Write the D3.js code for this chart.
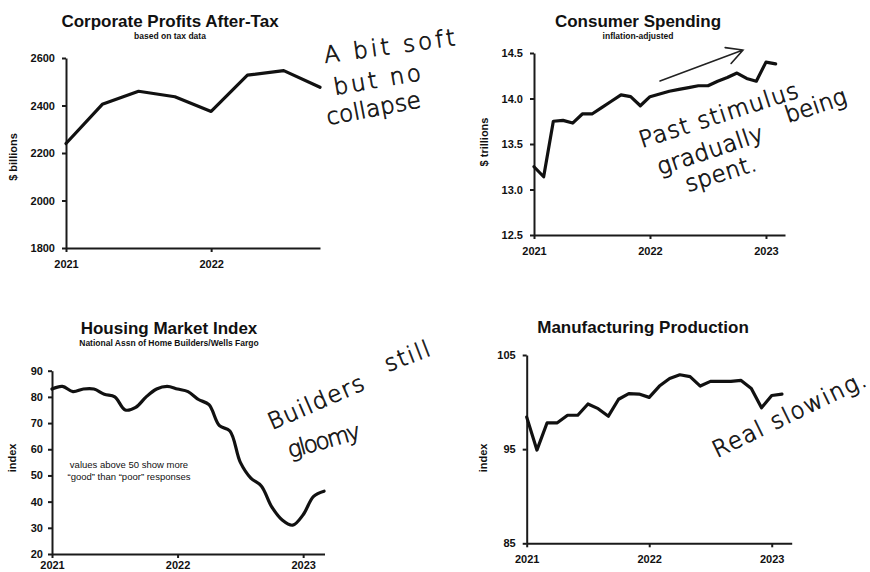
<!DOCTYPE html>
<meta charset="utf-8">
<style>
  body { margin: 0; background: #fff; }
  svg text { font-family: "Liberation Sans", Arial, sans-serif; fill: #111; }
  .axis path, .axis line { stroke: #1a1a1a; stroke-width: 2; fill: none; }
  .axis text { font-size: 11px; font-weight: bold; }
  .title { font-size: 17px; font-weight: bold; text-anchor: middle; }
  .sub { font-size: 8.5px; font-weight: bold; text-anchor: middle; }
  .ylab { font-size: 11px; font-weight: bold; text-anchor: middle; }
  .note { font-size: 9.5px; text-anchor: middle; }
  .series { fill: none; stroke: #111; stroke-width: 3.2; stroke-linejoin: round; stroke-linecap: round; }
  svg text.hand { font-family: "DejaVu Sans", sans-serif; font-weight: 200; font-size: 23px; stroke: #111; stroke-width: 0.7; }
  .pen { fill: none; stroke: #222; stroke-width: 1.6; stroke-linecap: round; }
</style>
<body>
<svg width="870" height="572"></svg>
<script src="https://d3js.org/d3.v7.min.js"></script>
<script>

// quarterly, from 2021 Q1
var profitsValues = [2240, 2405, 2460, 2437, 2375, 2528, 2547, 2477];
var profitsTicks = [1800, 2000, 2200, 2400, 2600];

// monthly, from Jan 2021
var spendingValues = [13.25, 13.14, 13.75, 13.76, 13.73, 13.83, 13.83, 13.90, 13.97, 14.04, 14.02, 13.92,
                      14.02, 14.05, 14.08, 14.10, 14.12, 14.14, 14.14, 14.19, 14.23, 14.28, 14.22, 14.19,
                      14.40, 14.38];
var spendingTicks = [12.5, 13.0, 13.5, 14.0, 14.5];

var housingValues = [83, 84, 82, 83, 83, 81, 80, 75, 76, 80, 83, 84,
                     83, 82, 79, 77, 69, 67, 55, 49, 46, 38, 33, 31,
                     35, 42, 44];
var housingTicks = [20, 30, 40, 50, 60, 70, 80, 90];

var manufacturingValues = [98.4, 94.9, 97.8, 97.8, 98.6, 98.6, 99.8, 99.3, 98.5, 100.3, 100.9, 100.85,
                           100.5, 101.7, 102.5, 102.9, 102.7, 101.7, 102.2, 102.2, 102.2, 102.3, 101.45, 99.4,
                           100.7, 100.85];
var manufacturingTicks = [85, 95, 105];

var yearTicks = [2021, 2022, 2023];

var svg = d3.select("svg");

// draws one small chart
function panel(o) {
  var x = d3.scaleLinear().domain(o.xDomain).range(o.xRange);
  var y = d3.scaleLinear().domain(o.yDomain).range(o.yRange);
  var g = svg.append("g");

  g.append("text").attr("class", "title").attr("x", o.titleX).attr("y", o.titleY).text(o.title);
  if (o.sub) g.append("text").attr("class", "sub").attr("x", o.titleX).attr("y", o.titleY + 12).text(o.sub);

  g.append("g").attr("class", "axis")
    .attr("transform", "translate(0," + o.yRange[0] + ")")
    .call(d3.axisBottom(x).tickValues(o.xTicks).tickFormat(d3.format("d")).tickSizeInner(4).tickSizeOuter(0).tickPadding(o.xPad || 8));

  g.append("g").attr("class", "axis")
    .attr("transform", "translate(" + o.xRange[0] + ",0)")
    .call(d3.axisLeft(y).tickValues(o.yTicks).tickFormat(o.yFormat).tickSizeInner(4).tickSizeOuter(0).tickPadding(o.yPad || 7));

  g.append("text").attr("class", "ylab")
    .attr("transform", "translate(" + o.ylabX + "," + o.ylabY + ") rotate(-90)")
    .text(o.ylab);

  var line = d3.line()
    .x(function(d, i) { return x(2021 + i * o.step); })
    .y(function(d) { return y(d); })
    .curve(o.curve || d3.curveLinear);

  g.append("path").attr("class", "series").attr("d", line(o.values));
  return g;
}

panel({
  title: "Corporate Profits After-Tax", sub: "based on tax data", titleX: 170, titleY: 27,
  xDomain: [2021, 2022.75], xRange: [66, 320], yDomain: [1800, 2600], yRange: [248, 58],
  xTicks: [2021, 2022], yTicks: profitsTicks, yFormat: d3.format("d"),
  ylab: "$ billions", ylabX: 17, ylabY: 157, values: profitsValues, step: 1 / 4
});

panel({
  title: "Consumer Spending", sub: "inflation-adjusted", titleX: 638, titleY: 27,
  xDomain: [2021, 2023.164], xRange: [534, 785], yDomain: [12.5, 14.5], yRange: [235, 53],
  xTicks: yearTicks, yTicks: spendingTicks, yFormat: d3.format(".1f"),
  ylab: "$ trillions", ylabX: 488, ylabY: 142, values: spendingValues, step: 1 / 12
});

var hp = panel({
  title: "Housing Market Index", sub: "National Assn of Home Builders/Wells Fargo", titleX: 169, titleY: 334,
  xDomain: [2021, 2023.17], xRange: [52, 324.5], yDomain: [20, 90], yRange: [554, 370.7],
  xTicks: yearTicks, yTicks: housingTicks, yFormat: d3.format("d"), yPad: 5, xPad: 3,
  ylab: "index", ylabX: 16, ylabY: 458, values: housingValues, step: 1 / 12,
  curve: d3.curveCatmullRom.alpha(0.5)
});
hp.append("text").attr("class", "note").attr("x", 129).attr("y", 468).text("values above 50 show more");
hp.append("text").attr("class", "note").attr("x", 129).attr("y", 480).text("\u201cgood\u201d than \u201cpoor\u201d responses");

panel({
  title: "Manufacturing Production", titleX: 643, titleY: 333,
  xDomain: [2021, 2023.163], xRange: [526.7, 791.7], yDomain: [85, 105], yRange: [543.3, 355],
  xTicks: yearTicks, yTicks: manufacturingTicks, yFormat: d3.format("d"),
  ylab: "index", ylabX: 487, ylabY: 458, values: manufacturingValues, step: 1 / 12
});

// handwritten notes
var notes = [
  { t: "A bit soft", x0: 325, y0: 63, x1: 456, y1: 45 },
  { t: "but no", x0: 335, y0: 95, x1: 422, y1: 80 },
  { t: "collapse", x0: 328, y0: 125, x1: 422, y1: 107 },
  { t: "Past stimulus", x0: 642, y0: 148, x1: 800, y1: 97 },
  { t: "being", x0: 788, y0: 123, x1: 848, y1: 103 },
  { t: "gradually", x0: 660, y0: 175, x1: 765, y1: 140 },
  { t: "spent.", x0: 688, y0: 192, x1: 758, y1: 170 },
  { t: "Builders", x0: 272, y0: 430, x1: 366, y1: 389 },
  { t: "still", x0: 388, y0: 372, x1: 432, y1: 355 },
  { t: "gloomy", x0: 290, y0: 458, x1: 362, y1: 438 },
  { t: "Real slowing.", x0: 717, y0: 458, x1: 868, y1: 385 }
];

notes.forEach(function(n) {
  var dx = n.x1 - n.x0, dy = n.y1 - n.y0;
  var a = Math.atan2(dy, dx) * 180 / Math.PI;
  svg.append("text").attr("class", "hand")
    .attr("transform", "translate(" + n.x0 + "," + n.y0 + ") rotate(" + a + ")")
    .attr("textLength", Math.sqrt(dx * dx + dy * dy))
    .attr("lengthAdjust", "spacing")
    .text(n.t);
});

// the arrow above consumer spending
var ax0 = 660, ay0 = 81, ax1 = 743, ay1 = 50;
var th = Math.atan2(ay1 - ay0, ax1 - ax0) + Math.PI;
var b1 = [ax1 + 18 * Math.cos(th - 0.49), ay1 + 18 * Math.sin(th - 0.49)];
var b2 = [ax1 + 18 * Math.cos(th + 0.49), ay1 + 18 * Math.sin(th + 0.49)];
svg.append("path").attr("class", "pen")
  .attr("d", "M" + ax0 + "," + ay0 + "L" + ax1 + "," + ay1 + "M" + b1 + "L" + ax1 + "," + ay1 + "L" + b2);

</script>
</body>
